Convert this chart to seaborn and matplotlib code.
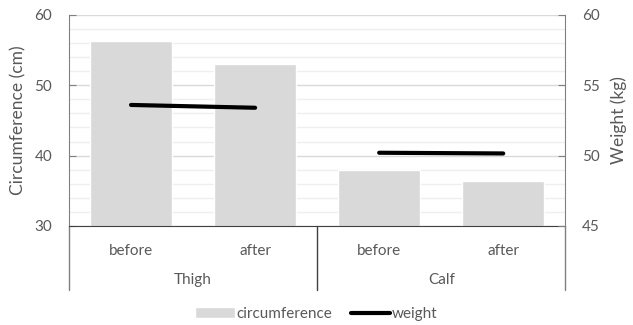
import matplotlib
matplotlib.use("Agg")
import matplotlib.pyplot as plt
import matplotlib.transforms as mtransforms
from matplotlib.patches import Patch
from matplotlib.lines import Line2D
import seaborn as sns
import pandas as pd

# Data
groups = ["Thigh", "Thigh", "Calf", "Calf"]
times = ["before", "after", "before", "after"]
circumference = [56.3, 53.0, 37.9, 36.4]
weight = [53.6, 53.4, 50.2, 50.15]

df = pd.DataFrame({"group": groups, "time": times,
                   "circumference": circumference, "weight": weight})
df["label"] = df["group"] + " " + df["time"]
df["idx"] = range(len(df))

sns.set_style("white")
plt.rcParams["font.family"] = ["Lato", "DejaVu Sans"]
text_col = "#595959"

fig, ax = plt.subplots(figsize=(6.33, 3.25), dpi=100)
fig.subplots_adjust(left=0.109, right=0.893, top=0.954, bottom=0.305)

sns.barplot(data=df, x="label", y="circumference", color="#d9d9d9",
            saturation=1, width=0.66, ax=ax, zorder=2)
ax.set_ylim(30, 60)
ax.set_xlim(-0.5, 3.5)
ax.set_yticks([30, 40, 50, 60])
ax.set_yticks(range(30, 61, 2), minor=True)
ax.grid(axis="y", which="major", color="#d9d9d9", lw=1, zorder=0)
ax.grid(axis="y", which="minor", color="#efefef", lw=1, zorder=0)
ax.set_axisbelow(True)
ax.set_ylabel("Circumference (cm)", color=text_col, fontsize=12.5, labelpad=6)
ax.set_xlabel("")
ax.set_xticks(range(4))
ax.set_xticklabels(times, color=text_col, fontsize=11)
ax.tick_params(axis="x", length=0, pad=13)
ax.tick_params(axis="y", which="major", direction="in", length=5,
               color="#808080", labelcolor=text_col, labelsize=11, pad=12)
ax.tick_params(axis="y", which="minor", length=0)

for s in ["top", "right"]:
    ax.spines[s].set_visible(False)
ax.spines["left"].set_color("#808080")
ax.spines["bottom"].set_color("#404040")

# group labels and separators under the x axis
trans = mtransforms.blended_transform_factory(ax.transData, ax.transAxes)
for x in [-0.5, 1.5, 3.5]:
    ax.plot([x, x], [0, -0.305], transform=trans, color="#404040" if x == 1.5 else "#808080",
            lw=1, clip_on=False)
for name, x in [("Thigh", 0.5), ("Calf", 2.5)]:
    ax.text(x, -0.255, name, transform=trans, ha="center", va="center",
            color=text_col, fontsize=11)

ax2 = ax.twinx()
sns.lineplot(data=df, x="idx", y="weight", units="group", estimator=None,
             color="black", lw=3, ax=ax2, legend=False)
ax2.set_ylim(45, 60)
ax2.set_yticks([45, 50, 55, 60])
ax2.set_ylabel("Weight (kg)", color=text_col, fontsize=12.5, rotation=90, labelpad=8)
ax2.tick_params(axis="y", direction="in", length=5, color="#808080",
                labelcolor=text_col, labelsize=11, pad=12)
for s in ["top", "left", "bottom"]:
    ax2.spines[s].set_visible(False)
ax2.spines["right"].set_color("#808080")
ax2.set_xlim(-0.5, 3.5)

handles = [Patch(facecolor="#d9d9d9", label="circumference"),
           Line2D([], [], color="black", lw=3, label="weight")]
fig.legend(handles=handles, loc="center", bbox_to_anchor=(0.5, 0.034), ncol=2,
           frameon=False, fontsize=11, labelcolor=text_col, handlelength=2.6,
           handletextpad=0.1, columnspacing=1.2)

fig.savefig("out.png", dpi=100)
